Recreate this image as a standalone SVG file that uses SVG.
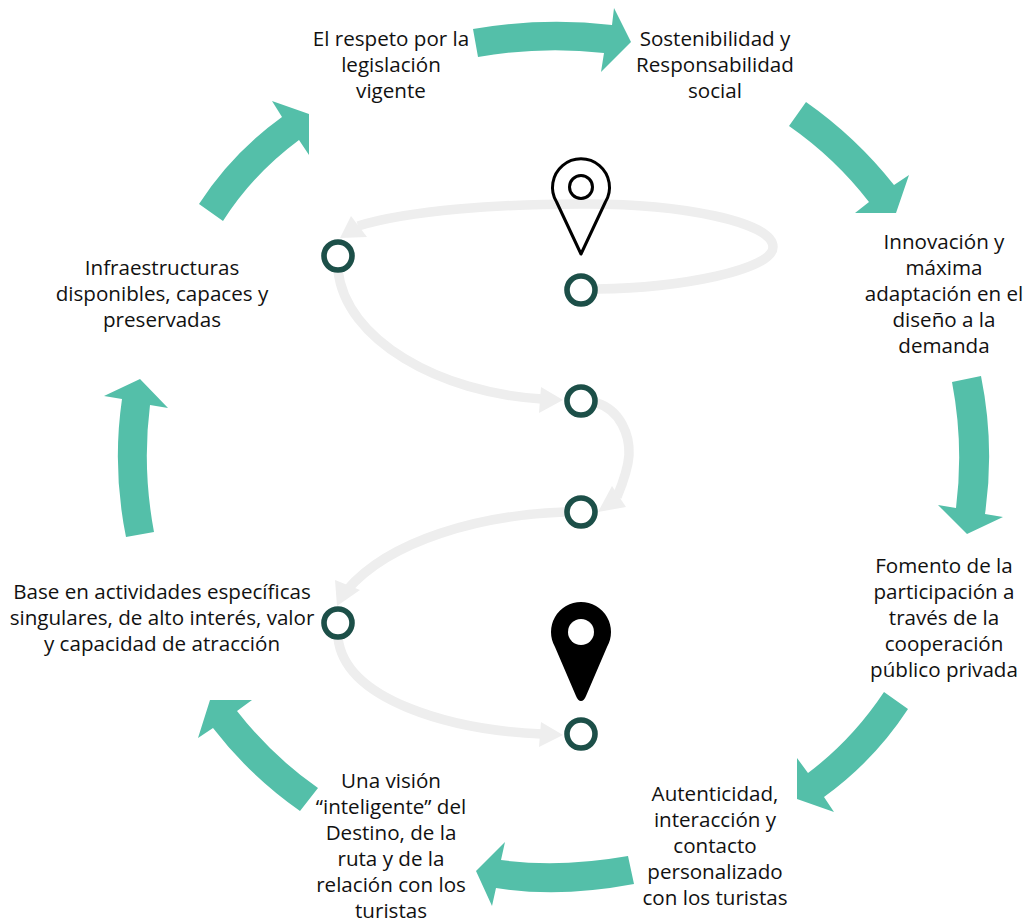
<svg xmlns="http://www.w3.org/2000/svg" width="1026" height="923" viewBox="0 0 1026 923">
<style>
text{font-family:"Open Sans","Noto Sans",sans-serif;font-size:20.6px;fill:#111;text-anchor:middle}
.teal{fill:#54BFA9}
.trail{fill:none;stroke:#EEEEEE;stroke-width:9.5}
.head{fill:#EEEEEE}
.stop{fill:#fff;stroke:#1C4F48;stroke-width:5.6}
</style>
<rect width="1026" height="923" fill="#fff"/>
<g id="connectors">
<path class="teal" d="M473 29Q543 17 612 25L614 8L631 42L601 72L604 53Q541 46 478 57Z"/>
<path class="teal" d="M806 102Q856 137 894 185L909 175L896 213L855 213L869 202Q835 158 789 126Z"/>
<path class="teal" d="M981 376Q995 445 985 514L1003 517L967 534L938 505L956 508Q964 445 952 382Z"/>
<path class="teal" d="M908 709Q874 761 824 797L834 812L797 799L797 758L808 773Q852 740 884 692Z"/>
<path class="teal" d="M628 856Q560 868 501 860L505 842L476 871L492 906L496 888Q560 898 634 884Z"/>
<path class="teal" d="M300 811Q250 776 213 728L198 738L210 700L252 700L237 711Q272 756 318 788Z"/>
<path class="teal" d="M154 532Q142 468 150 405L168 408L140 379L104 396L122 399Q112 468 126 537Z"/>
<path class="teal" d="M223 221Q253 174 299 140L309 155L309 114L272 101L282 117Q232 153 199 204Z"/>
<path class="trail" d="M597 289C680 288 773 270 773 247C773 222 680 203 580 204C500 204 410 210 358 226"/>
<polygon class="head" points="340,238 351,216 367,237"/>
<path class="trail" d="M338 270C345 340 440 393 542 399"/>
<polygon class="head" points="563,400 541,387 539,413"/>
<path class="trail" d="M597 403C620 410 630 435 629 455C628 470 622 485 617 497"/>
<polygon class="head" points="598,512 612,486 626,507"/>
<path class="trail" d="M565 512C480 515 390 540 347 590"/>
<polygon class="head" points="337,606 335,580 360,590"/>
<path class="trail" d="M338 638C345 700 450 730 542 734"/>
<polygon class="head" points="563,735 541,722 539,747"/>
</g>
<g id="pin-start"><path d="M581 254L556.6 202A28.5 28.5 0 1 1 605.4 202Z" fill="none" stroke="#000" stroke-width="3" stroke-linejoin="round"/><circle cx="581" cy="187" r="11.5" fill="none" stroke="#000" stroke-width="3"/></g>
<g id="pin-end"><path d="M581 701Q578 701 576 696L555 647A30 30 0 1 1 607 647L586 696Q584 701 581 701Z" fill="#000"/><circle cx="581" cy="632" r="13" fill="#fff"/></g>
<g id="stop-1"><circle class="stop" cx="581" cy="290" r="14"/></g>
<g id="stop-2"><circle class="stop" cx="338" cy="256" r="14"/></g>
<g id="stop-3"><circle class="stop" cx="581" cy="401" r="14"/></g>
<g id="stop-4"><circle class="stop" cx="581" cy="512" r="14"/></g>
<g id="stop-5"><circle class="stop" cx="338" cy="623" r="14"/></g>
<g id="stop-6"><circle class="stop" cx="581" cy="734" r="14"/></g>
<g id="label-respeto"><text x="391" y="46">El respeto por la</text><text x="391" y="72">legislación</text><text x="391" y="98">vigente</text></g>
<g id="label-sostenibilidad"><text x="715" y="46">Sostenibilidad y</text><text x="715" y="72">Responsabilidad</text><text x="715" y="98">social</text></g>
<g id="label-innovacion"><text x="944" y="249">Innovación y</text><text x="944" y="275">máxima</text><text x="944" y="301">adaptación en el</text><text x="944" y="327">diseño a la</text><text x="944" y="353">demanda</text></g>
<g id="label-fomento"><text x="944" y="573">Fomento de la</text><text x="944" y="599">participación a</text><text x="944" y="625">través de la</text><text x="944" y="651">cooperación</text><text x="944" y="677">público privada</text></g>
<g id="label-autenticidad"><text x="715" y="801">Autenticidad,</text><text x="715" y="827">interacción y</text><text x="715" y="853">contacto</text><text x="715" y="879">personalizado</text><text x="715" y="905">con los turistas</text></g>
<g id="label-vision"><text x="391" y="788">Una visión</text><text x="391" y="814">“inteligente” del</text><text x="391" y="840">Destino, de la</text><text x="391" y="866">ruta y de la</text><text x="391" y="892">relación con los</text><text x="391" y="918">turistas</text></g>
<g id="label-base"><text x="162" y="599">Base en actividades específicas</text><text x="162" y="625">singulares, de alto interés, valor</text><text x="162" y="651">y capacidad de atracción</text></g>
<g id="label-infra"><text x="162" y="275">Infraestructuras</text><text x="162" y="301">disponibles, capaces y</text><text x="162" y="327">preservadas</text></g>
</svg>
